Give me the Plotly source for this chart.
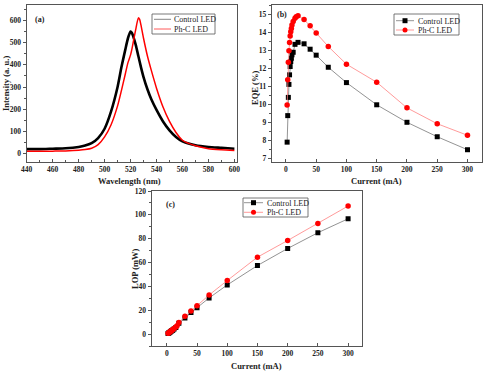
import plotly.graph_objects as go

# ---------- Panel (a): EL spectra ----------
wl_ctrl = [440, 450, 460, 470, 480, 485, 490, 495, 500, 505, 510, 513, 516, 518, 520, 521, 522,
           524, 526, 528, 530, 533, 536, 540, 545, 550, 555, 560, 570, 580, 590, 600]
int_ctrl = [20, 20, 22, 24, 30, 36, 47, 70, 112, 190, 300, 390, 470, 520, 550, 545, 530,
            490, 440, 390, 345, 290, 245, 197, 145, 105, 75, 55, 38, 30, 26, 22]
wl_phc = [440, 450, 460, 470, 480, 485, 490, 495, 500, 505, 510, 513, 516, 518, 520, 521, 522,
          524, 526, 527, 528, 530, 533, 536, 540, 545, 550, 555, 560, 570, 580, 590, 600]
int_phc = [10, 10, 11, 12, 15, 18, 24, 40, 75, 130, 215, 285, 360, 410, 445, 470, 500,
           560, 612, 605, 580, 520, 440, 375, 295, 210, 145, 95, 60, 35, 22, 17, 14]

# ---------- Panel (b): EQE ----------
cur_ctrl = [2, 3, 4, 5, 6, 7, 8, 9, 10, 12, 15, 20, 30, 40, 50, 70, 100, 150, 200, 250, 300]
eqe_ctrl = [7.9, 9.37, 10.38, 11.1, 11.63, 12.09, 12.37, 12.55, 12.74, 12.88, 13.32, 13.43,
            13.35, 13.05, 12.72, 12.05, 11.2, 9.97, 9.0, 8.2, 7.48]
cur_phc = [2, 3, 4, 5, 6, 7, 8, 9, 10, 12, 15, 17, 20, 30, 40, 50, 70, 100, 150, 200, 250, 300]
eqe_phc = [9.96, 11.36, 12.33, 12.96, 13.42, 13.78, 14.02, 14.2, 14.39, 14.58, 14.76, 14.85,
           14.9, 14.7, 14.35, 13.95, 13.2, 12.22, 11.22, 9.8, 8.92, 8.28]

# ---------- Panel (c): LOP ----------
lop_ctrl = [0.5, 0.8, 1.2, 1.5, 1.9, 2.3, 2.7, 3.1, 3.5, 4.2, 5.6, 9.0,
            13.5, 18.2, 22.1, 30.3, 41.2, 57.5, 71.8, 85.0, 96.7]
lop_phc = [0.6, 0.9, 1.3, 1.7, 2.1, 2.5, 2.9, 3.4, 3.8, 4.6, 6.0, 7.0, 9.8,
           14.9, 19.3, 23.8, 32.8, 44.9, 64.5, 78.5, 92.8, 107.4]

series_names = ["Control LED", "Ph-C LED"]

W, H = 488, 373
FONT = "Liberation Serif"
AX = "#555555"
TXT = "#222222"

fig = go.Figure()

# panel a
fig.add_trace(go.Scatter(x=wl_ctrl, y=int_ctrl, mode="lines", name=series_names[0],
                         line=dict(color="black", width=2.6, shape="spline", smoothing=0.6),
                         xaxis="x", yaxis="y"))
fig.add_trace(go.Scatter(x=wl_phc, y=int_phc, mode="lines", name=series_names[1],
                         line=dict(color="red", width=1.5, shape="spline", smoothing=0.6),
                         xaxis="x", yaxis="y"))
# panel b
fig.add_trace(go.Scatter(x=cur_ctrl, y=eqe_ctrl, mode="lines+markers", name=series_names[0],
                         line=dict(color="#777777", width=0.8),
                         marker=dict(symbol="square", color="black", size=5),
                         xaxis="x2", yaxis="y2"))
fig.add_trace(go.Scatter(x=cur_phc, y=eqe_phc, mode="lines+markers", name=series_names[1],
                         line=dict(color="#ff8080", width=0.8),
                         marker=dict(symbol="circle", color="red", size=5.5),
                         xaxis="x2", yaxis="y2"))
# panel c
fig.add_trace(go.Scatter(x=cur_ctrl, y=lop_ctrl, mode="lines+markers", name=series_names[0],
                         line=dict(color="#777777", width=0.8),
                         marker=dict(symbol="square", color="black", size=5),
                         xaxis="x3", yaxis="y3"))
fig.add_trace(go.Scatter(x=cur_phc, y=lop_phc, mode="lines+markers", name=series_names[1],
                         line=dict(color="#ff8080", width=0.8),
                         marker=dict(symbol="circle", color="red", size=5.5),
                         xaxis="x3", yaxis="y3"))


def ax(domain, rng, dtick, anchor, is_x):
    return dict(domain=domain, range=rng, dtick=dtick, anchor=anchor, automargin=False,
                showgrid=False, zeroline=False, showline=True, linecolor=AX, linewidth=1.2,
                mirror=True, ticks="inside" if is_x else "outside", ticklen=3, tickcolor=AX,
                tickwidth=1,
                minor=dict(ticks="inside" if is_x else "outside", ticklen=2, tickcolor=AX, nticks=2),
                tickfont=dict(family=FONT, size=7.5, color=TXT, weight="bold"))


def px(x0, x1):
    return [x0 / W, x1 / W]


def py(top, bottom):
    return [1 - bottom / H, 1 - top / H]


fig.update_layout(
    width=W, height=H, margin=dict(l=0, r=0, t=0, b=0),
    paper_bgcolor="white", plot_bgcolor="white", showlegend=False,
    xaxis=ax(px(26.7, 237), [440, 602], 20, "y", True),
    yaxis=ax(py(5, 162), [-38, 670], 100, "x", False),
    xaxis2=ax(px(272, 482), [-23, 324], 50, "y2", True),
    yaxis2=ax(py(5, 162), [6.8, 15.5], 1, "x2", False),
    xaxis3=ax(px(151.7, 362), [-25, 323], 50, "y3", True),
    yaxis3=ax(py(191, 346), [-10, 120], 20, "x3", False),
)


def ann(text, x, y, size=8.5, angle=0, bold=True, xanchor="center"):
    fig.add_annotation(text=text, x=x / W, y=1 - y / H, xref="paper", yref="paper",
                       showarrow=False, xanchor=xanchor, yanchor="middle", textangle=angle,
                       font=dict(family=FONT, size=size, color=TXT,
                                 weight="bold" if bold else "normal"))


# axis titles
ann("Wavelength (nm)", 129, 181)
ann("Intensity (a. u.)", 6, 84, angle=-90)
ann("Current (mA)", 376, 181)
ann("EQE (%)", 255, 88, angle=-90)
ann("Current (mA)", 256, 366)
ann("LOP (mW)", 135, 269, angle=-90)

# panel labels
ann("(a)", 40, 19, size=8)
ann("(b)", 282, 14, size=8)
ann("(c)", 170, 204, size=8)


# manual legends (compact, like the original figure)
def legend(box, rows, samp, text_x, markers):
    x0, y0, x1, y1 = box
    fig.add_shape(type="rect", xref="paper", yref="paper",
                  x0=x0 / W, x1=x1 / W, y0=1 - y1 / H, y1=1 - y0 / H,
                  line=dict(color=AX, width=0.8), fillcolor="white")
    line_cols = ["#666666", "#ff3030"] if not markers else ["#777777", "#ff8080"]
    for i, (ry, name) in enumerate(zip(rows, series_names)):
        fig.add_shape(type="line", xref="paper", yref="paper",
                      x0=samp[0] / W, x1=samp[1] / W, y0=1 - ry / H, y1=1 - ry / H,
                      line=dict(color=line_cols[i], width=0.8))
        if markers:
            cx = (samp[0] + samp[1]) / 2
            r = 2.5
            fig.add_shape(type="rect" if i == 0 else "circle", xref="paper", yref="paper",
                          x0=(cx - r) / W, x1=(cx + r) / W, y0=1 - (ry + r) / H, y1=1 - (ry - r) / H,
                          line=dict(width=0), fillcolor="black" if i == 0 else "red")
        ann(name, text_x, ry + 0.3, size=8, bold=False, xanchor="left")


legend((152, 14, 215, 34), (19.3, 29), (154, 171), 172, False)
legend((394, 14, 459, 35), (20.7, 30), (396, 414), 416, True)
legend((243, 198, 308, 217), (202.7, 212.3), (244, 263), 265, True)

fig.write_html("out.html", config={"displayModeBar": False, "staticPlot": True},
               post_script="document.body.style.margin='0';document.body.style.overflow='hidden';")
